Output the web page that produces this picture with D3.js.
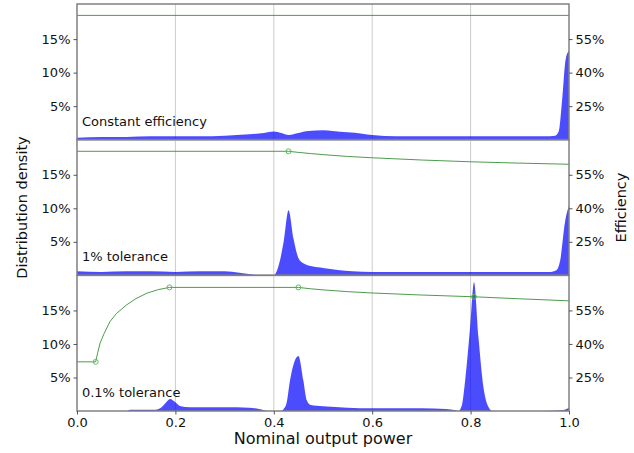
<!DOCTYPE html>
<html>
<head>
<meta charset="utf-8">
<script src="https://cdn.jsdelivr.net/npm/d3@7"></script>
<style>
  body { margin: 0; background: #fff; }
  svg { display: block; font-family: "DejaVu Sans", sans-serif; }
</style>
</head>
<body>
<svg id="chart" width="634" height="453"></svg>
<script>
// tick values and labels
const xTicks = [0, 0.2, 0.4, 0.6, 0.8, 1.0];
const gridX = [0.2, 0.4, 0.6, 0.8];
const densityTicks = [5, 10, 15];
const efficiencyTicks = [25, 40, 55];
const panelLabels = ["Constant efficiency", "1% tolerance", "0.1% tolerance"];

// distribution density (%) per panel
const densX1 = [0, 0.05, 0.1, 0.15, 0.2, 0.25, 0.3, 0.35, 0.38, 0.4, 0.415, 0.43, 0.45, 0.47, 0.5, 0.52, 0.55, 0.58, 0.6, 0.65, 0.7, 0.75, 0.8, 0.85, 0.9, 0.95, 0.972, 0.979, 0.986, 0.993, 1.0];
const densY1 = [0.3, 0.4, 0.4, 0.5, 0.5, 0.5, 0.6, 0.8, 1.0, 1.2, 1.0, 0.7, 1.0, 1.3, 1.4, 1.3, 1.1, 0.9, 0.7, 0.5, 0.5, 0.5, 0.5, 0.5, 0.5, 0.5, 0.6, 1.2, 5.9, 11.9, 13.3];

const densX2 = [0, 0.05, 0.1, 0.15, 0.2, 0.25, 0.3, 0.33, 0.36, 0.38, 0.4, 0.41, 0.42, 0.43, 0.44, 0.45, 0.46, 0.48, 0.5, 0.53, 0.56, 0.6, 0.65, 0.7, 0.8, 0.9, 0.96, 0.975, 0.982, 0.992, 1.0];
const densY2 = [0.6, 0.5, 0.6, 0.6, 0.5, 0.6, 0.6, 0.4, 0.1, 0, 0, 1.5, 5.0, 9.7, 5.5, 2.6, 1.8, 1.3, 1.1, 0.8, 0.6, 0.5, 0.5, 0.5, 0.5, 0.5, 0.5, 0.8, 2.2, 8.0, 10.4];

const densX3 = [0, 0.1, 0.108, 0.16, 0.169, 0.18, 0.189, 0.2, 0.209, 0.23, 0.3, 0.35, 0.37, 0.39, 0.415, 0.42, 0.426, 0.433, 0.45, 0.46, 0.467, 0.475, 0.5, 0.55, 0.6, 0.7, 0.75, 0.77, 0.775, 0.782, 0.789, 0.799, 0.807, 0.816, 0.826, 0.835, 0.845, 0.86, 0.9, 0.95, 0.985, 1.0];
const densY3 = [0, 0, 0.2, 0.2, 0.4, 1.2, 1.8, 1.3, 0.75, 0.55, 0.55, 0.5, 0.3, 0, 0, 0.3, 1.2, 4.6, 8.2, 4.6, 1.6, 0.9, 0.7, 0.5, 0.4, 0.4, 0.3, 0.1, 0, 0.8, 4.6, 12.5, 19.2, 11, 3.6, 0.8, 0, 0, 0, 0, 0.1, 0.5];

// efficiency (%) per panel, with marker positions
const effX1 = [0, 1.0];
const effY1 = [65.6, 65.6];
const markX1 = [];
const markY1 = [];

const effX2 = [0, 0.43, 0.45, 0.474, 0.5, 0.55, 0.6, 0.7, 0.8, 0.9, 1.0];
const effY2 = [65.5, 65.5, 65.0, 64.5, 64.0, 63.2, 62.6, 61.6, 60.8, 60.2, 59.7];
const markX2 = [0.43];
const markY2 = [65.5];

const effX3 = [0, 0.038, 0.042, 0.047, 0.055, 0.067, 0.08, 0.101, 0.12, 0.142, 0.165, 0.188, 0.45, 0.474, 0.5, 0.55, 0.6, 0.7, 0.807, 0.9, 1.0];
const effY3 = [32.0, 32.0, 36.0, 40.4, 44.6, 50.0, 53.6, 57.5, 60.3, 62.7, 64.3, 65.3, 65.3, 64.7, 64.2, 63.4, 62.8, 61.9, 61.1, 60.2, 59.3];
const markX3 = [0.038, 0.188, 0.45, 0.807];
const markY3 = [32.0, 65.3, 65.3, 61.1];

const panels = [
  { dx: densX1, dy: densY1, ex: effX1, ey: effY1, mx: markX1, my: markY1 },
  { dx: densX2, dy: densY2, ex: effX2, ey: effY2, mx: markX2, my: markY2 },
  { dx: densX3, dy: densY3, ex: effX3, ey: effY3, mx: markX3, my: markY3 }
];

const plotLeft = 77, plotRight = 569, plotTop = 4, plotBottom = 411;
const panelH = (plotBottom - plotTop) / 3;

const svg = d3.select("#chart");
const x = d3.scaleLinear().domain([0, 1]).range([plotLeft, plotRight]);

panels.forEach((p, i) => {
  const y0 = plotTop + i * panelH;
  const y1 = y0 + panelH;
  const yD = d3.scaleLinear().domain([0, 20.24]).range([y1, y0]);
  const yE = d3.scaleLinear().domain([10, 70.7]).range([y1, y0]);
  const g = svg.append("g");

  // vertical grid
  g.selectAll("line.grid").data(gridX).enter().append("line")
    .attr("x1", d => x(d)).attr("x2", d => x(d))
    .attr("y1", y0).attr("y2", y1)
    .attr("stroke", "#cccccc").attr("stroke-width", 1);

  // density area
  const pts = p.dx.map((v, k) => [v, p.dy[k]]);
  const area = d3.area()
    .x(d => x(d[0])).y0(y1).y1(d => yD(d[1]))
    .curve(d3.curveMonotoneX);
  g.append("path").datum(pts)
    .attr("d", area)
    .attr("fill", "#0000ff").attr("fill-opacity", 0.7);

  // efficiency line
  const epts = p.ex.map((v, k) => [v, p.ey[k]]);
  g.append("path").datum(epts)
    .attr("d", d3.line().x(d => x(d[0])).y(d => yE(d[1])))
    .attr("fill", "none").attr("stroke", "#2e8b2e").attr("stroke-opacity", 0.85)
    .attr("stroke-width", 1);

  g.selectAll("circle").data(p.mx.map((v, k) => [v, p.my[k]])).enter().append("circle")
    .attr("cx", d => x(d[0])).attr("cy", d => yE(d[1])).attr("r", 2.5)
    .attr("fill", "none").attr("stroke", "#5cc05c").attr("stroke-width", 1);

  // frame
  g.append("rect")
    .attr("x", plotLeft).attr("y", y0).attr("width", plotRight - plotLeft).attr("height", panelH)
    .attr("fill", "none").attr("stroke", "#808080").attr("stroke-width", 1.5);

  // left axis
  const la = g.append("g").attr("transform", `translate(${plotLeft},0)`)
    .call(d3.axisLeft(yD).tickValues(densityTicks).tickSize(3.5).tickPadding(3).tickFormat(d => d + "%"));
  la.select(".domain").remove();
  la.selectAll("line").attr("stroke", "#555");
  la.selectAll("text").attr("font-size", 13).attr("fill", "#111").attr("font-family", "DejaVu Sans");

  // right axis
  const ra = g.append("g").attr("transform", `translate(${plotRight},0)`)
    .call(d3.axisRight(yE).tickValues(efficiencyTicks).tickSize(3.5).tickPadding(3).tickFormat(d => d + "%"));
  ra.select(".domain").remove();
  ra.selectAll("line").attr("stroke", "#555");
  ra.selectAll("text").attr("font-size", 13).attr("fill", "#111").attr("font-family", "DejaVu Sans");

  // panel label
  g.append("text").attr("x", x(0.01)).attr("y", y1 - 14)
    .attr("font-size", 13).attr("fill", "#111")
    .text(panelLabels[i]);
});

// bottom x axis
const xa = svg.append("g").attr("transform", `translate(0,${plotBottom})`)
  .call(d3.axisBottom(x).tickValues(xTicks).tickSize(3.5).tickPadding(3).tickFormat(d3.format(".1f")));
xa.select(".domain").remove();
xa.selectAll("line").attr("stroke", "#555");
xa.selectAll("text").attr("font-size", 13).attr("fill", "#111").attr("font-family", "DejaVu Sans");

svg.append("text").attr("x", (plotLeft + plotRight) / 2).attr("y", 444)
  .attr("text-anchor", "middle").attr("font-size", 16).attr("fill", "#111")
  .text("Nominal output power");

svg.append("text").attr("transform", `translate(27,${plotTop + panelH * 1.5}) rotate(-90)`)
  .attr("text-anchor", "middle").attr("font-size", 14.5).attr("fill", "#111")
  .text("Distribution density");

svg.append("text").attr("transform", `translate(626,${plotTop + panelH * 1.5}) rotate(-90)`)
  .attr("text-anchor", "middle").attr("font-size", 14.5).attr("fill", "#111")
  .text("Efficiency");
</script>
</body>
</html>
